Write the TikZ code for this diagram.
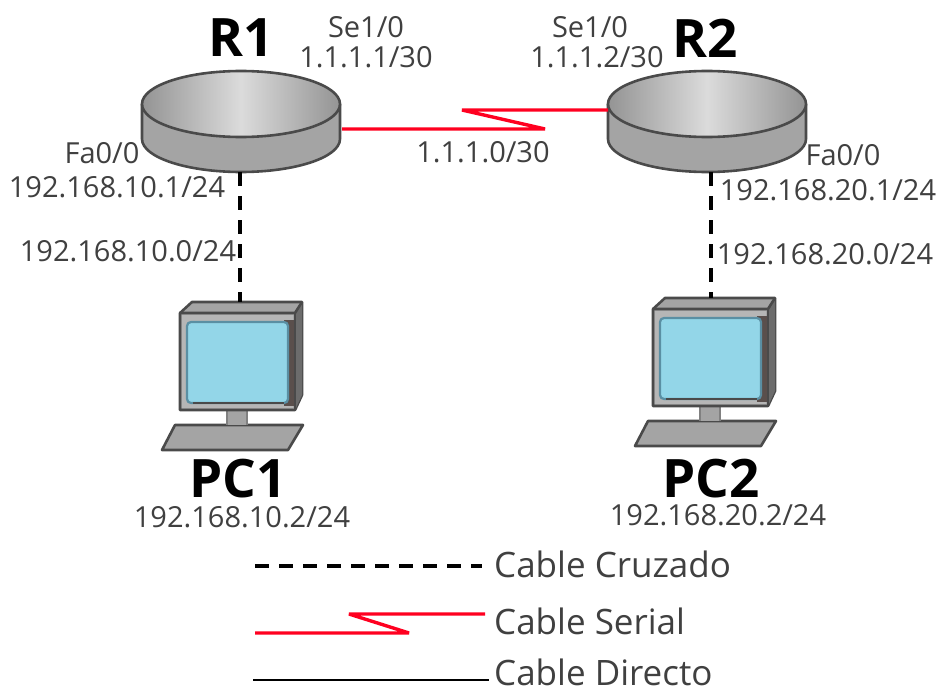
\documentclass[tikz,border=0pt]{standalone}
\usepackage{fontspec}
\setmainfont{Open Sans}
\definecolor{txt}{HTML}{404040}
\definecolor{edge}{HTML}{4A4A4A}
\definecolor{body}{HTML}{A4A4A4}
\definecolor{sidegray}{HTML}{5A4F4C}
\definecolor{screen}{HTML}{93D6E8}
\definecolor{screenedge}{HTML}{5A8FA3}
\definecolor{serial}{HTML}{FF0020}
\tikzset{
  lbl/.style={text=txt,font=\fontsize{29}{29}\selectfont,inner sep=0pt},
  legendlbl/.style={text=txt,font=\fontsize{35}{35}\selectfont,inner sep=0pt,anchor=west},
  devname/.style={text=black,font=\fontsize{53}{53}\selectfont\bfseries,inner sep=0pt},
  crossover/.style={draw=black,line width=3.2pt,dash pattern=on 14pt off 10pt},
  seriallink/.style={draw=serial,line width=3.4pt,line join=bevel},
  straight/.style={draw=black,line width=2.6pt},
  devline/.style={draw=edge,line width=2.6pt,line join=round},
}
\newcommand{\routerdev}[4]{% name, x, y of the top ellipse centre, x of the port
  \begin{scope}[shift={(#2,#3)}]
    \fill[body] (-99,0) -- (-99,35) arc[start angle=180,end angle=0,x radius=99,y radius=33] -- (99,0) -- cycle;
    \draw[devline] (-99,0) -- (-99,35) arc[start angle=180,end angle=0,x radius=99,y radius=33] -- (99,0);
    \draw[devline,left color=body!90!black,right color=body!90!black,middle color=white!86!black]
      (0,0) ellipse[x radius=99,y radius=33];
    \coordinate (#1-bottom) at (#4,68);
  \end{scope}}
\newcommand{\pcdev}[4]{% name, x-offset, y-offset, x of the port
  \begin{scope}[shift={(#2,#3)}]
    \filldraw[devline,fill=body] (175,425) -- (303,425) -- (288,450) -- (162,450) -- cycle;
    \fill[body] (227,410) rectangle (247,425);
    \draw[draw=gray,line width=1.5pt] (227,410) -- (227,425) (247,410) -- (247,425);
    \filldraw[devline,fill=body] (180,313) -- (192,302) -- (302,302) -- (302,395) -- (295,410) -- (180,410) -- cycle;
    \fill[gray!85!black] (295,313) -- (302,302) -- (302,395) -- (295,410) -- cycle;
    \draw[devline] (180,313) -- (295,313) -- (302,302);
    \draw[devline] (295,313) -- (295,410);
    \fill[body!80!white] (182,315) rectangle (293,408);
    \fill[sidegray] (284,320) rectangle (294,406);
    \filldraw[draw=screenedge,line width=2.2pt,fill=screen,rounded corners=4pt] (187,322) rectangle (288,403);
    \draw[edge,line width=2.6pt] (193,403) -- (284,403);
    \coordinate (#1-top) at (#4,302);
  \end{scope}}
\begin{document}
\begin{tikzpicture}[x=1pt,y=-1pt]
\useasboundingbox (0,0) rectangle (938,693);
\fill[white] (0,0) rectangle (938,693);

\routerdev{rA}{241}{104}{-1}
\routerdev{rB}{707}{104}{4}
\pcdev{pA}{0}{0}{240}
\pcdev{pB}{473}{-4}{238}

% connectors
\coordinate (zA) at (545,129);
\coordinate (zB) at (462,110);
\coordinate (rBjoin) at (608,110);
\coordinate (rAjoin) at (342,129);
\draw[seriallink] (rAjoin) -- (zA) -- (zB) -- (rBjoin);
\draw[crossover] (rA-bottom) -- (pA-top);
\draw[crossover] (rB-bottom) -- (pB-top);

% device names
\node[devname] (nR1) at (241,38) {R1};
\node[devname] (nR2) at (705,38) {R2};
\node[devname] (nPC1) at (238,479) {PC1};
\node[devname] (nPC2) at (711,479) {PC2};

% labels
\node[lbl] (l1) at (366,27) {Se1/0};
\node[lbl] (l2) at (366,57) {1.1.1.1/30};
\node[lbl] (l3) at (590,27) {Se1/0};
\node[lbl] (l4) at (597,57) {1.1.1.2/30};
\node[lbl] (l5) at (483,152) {1.1.1.0/30};
\node[lbl] (l6) at (102,153) {Fa0/0};
\node[lbl] (l7) at (117,187) {192.168.10.1/24};
\node[lbl] (l8) at (128,251) {192.168.10.0/24};
\node[lbl] (l9) at (843,155) {Fa0/0};
\node[lbl] (l10) at (828,190) {192.168.20.1/24};
\node[lbl] (l11) at (825,254) {192.168.20.0/24};
\node[lbl] (l12) at (242,517) {192.168.10.2/24};
\node[lbl] (l13) at (718,515) {192.168.20.2/24};

% legend
\node[legendlbl] (lgA) at (494,564) {Cable Cruzado};
\node[legendlbl] (lgB) at (494,621) {Cable Serial};
\node[legendlbl] (lgC) at (494,672) {Cable Directo};
\coordinate (aS) at (255,566);
\coordinate (aE) at (482,566);
\coordinate (bS) at (255,633);
\coordinate (bM) at (409,633);
\coordinate (bN) at (349,614);
\coordinate (bE) at (485,614);
\coordinate (cS) at (253,680);
\coordinate (cE) at (489,680);
\draw[crossover] (aS) -- (aE);
\draw[seriallink] (bS) -- (bM) -- (bN) -- (bE);
\draw[straight] (cS) -- (cE);
\end{tikzpicture}
\end{document}
